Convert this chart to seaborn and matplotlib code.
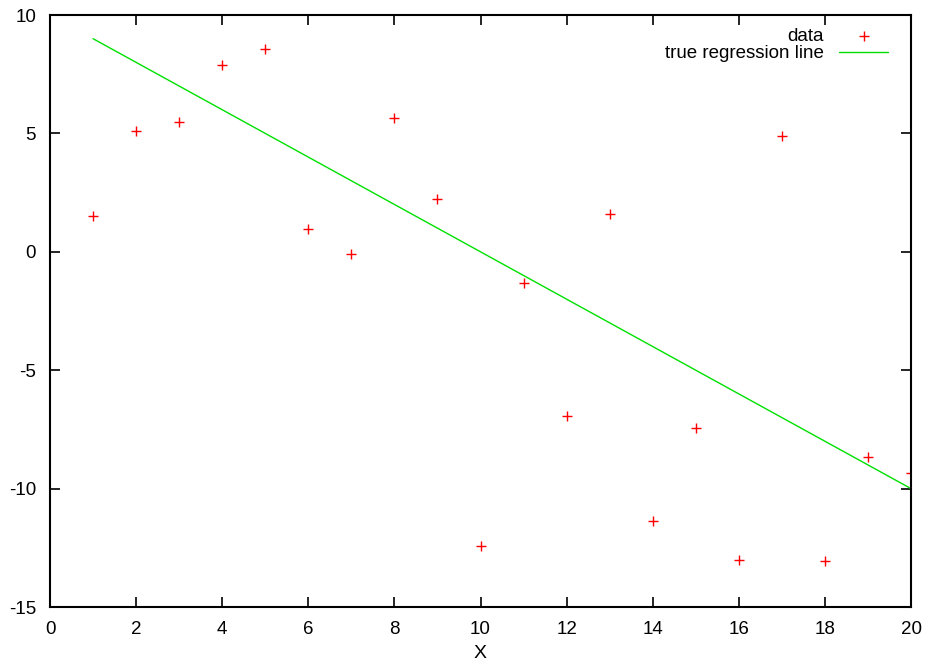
import numpy as np
import pandas as pd
import matplotlib
matplotlib.use("Agg")
import matplotlib.pyplot as plt
import seaborn as sns

# values
x_data = [1, 2, 3, 4, 5, 6, 7, 8, 9, 10, 11, 12, 13, 14, 15, 16, 17, 18, 19, 20]
y_data = [1.5, 5.12, 5.5, 7.9, 8.55, 0.97, -0.08, 5.67, 2.25, -12.42,
          -1.3, -6.92, 1.6, -11.36, -7.43, -13.0, 4.9, -13.05, -8.66, -9.36]
x_line = [1, 20]
y_line = [9, -10]

df = pd.DataFrame({"x": x_data, "y": y_data})
line_df = pd.DataFrame({"x": x_line, "y": y_line})

sns.set_style("ticks")
plt.rcParams["font.family"] = ["Liberation Sans", "DejaVu Sans"]
plt.rcParams["axes.unicode_minus"] = False
plt.rcParams["text.color"] = "black"
plt.rcParams["axes.labelcolor"] = "black"
plt.rcParams["xtick.color"] = "black"
plt.rcParams["ytick.color"] = "black"

fig = plt.figure(figsize=(9.27, 6.64), dpi=100)
ax = fig.add_axes([50 / 927, 1 - 607 / 664, 861 / 927, 592 / 664])

sns.scatterplot(data=df, x="x", y="y", ax=ax, marker="+", color="red",
                s=55, linewidth=1.0, label="data")
sns.lineplot(data=line_df, x="x", y="y", ax=ax, color="#00e000",
             linewidth=1.0, label="true regression line")

ax.set_xlim(0, 20)
ax.set_ylim(-15, 10)
ax.set_xticks(range(0, 21, 2))
ax.set_yticks([-15, -10, -5, 0, 5, 10])
ax.set_xlabel("X", fontsize=14, labelpad=5)
ax.set_ylabel("")

for s in ax.spines.values():
    s.set_visible(True)
    s.set_linewidth(1.5)
    s.set_color("black")
ax.tick_params(direction="in", length=7, width=1.2, top=True, right=True,
               labelsize=13.5)
ax.tick_params(axis="x", pad=10)
ax.tick_params(axis="y", pad=10)

leg = ax.legend(loc="upper right", bbox_to_anchor=(1 - 10 / 861, 1),
                frameon=False, markerfirst=False,
                fontsize=13.5, handlelength=2.6, borderaxespad=0.3,
                labelspacing=0.0)

fig.savefig("out.png", dpi=100)
